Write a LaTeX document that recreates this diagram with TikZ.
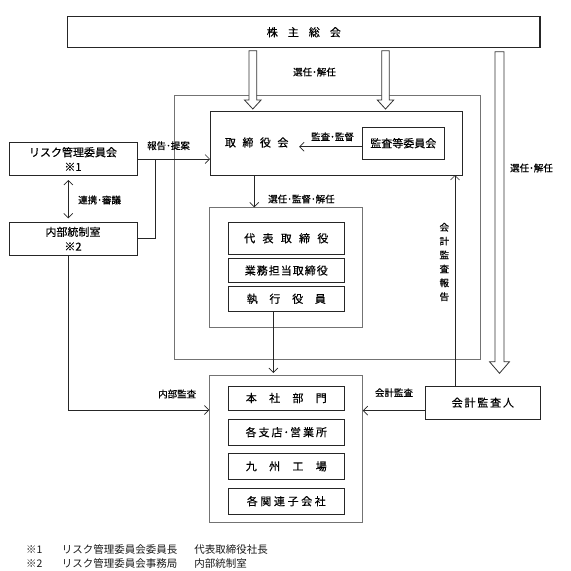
\documentclass[tikz,border=0pt]{standalone}
\usepackage{fontspec}
\setmainfont{Noto Sans CJK JP}[FakeBold=0.35]
\newfontfamily\footfont{Noto Sans CJK JP}
\usetikzlibrary{arrows.meta}
\begin{document}
\begin{tikzpicture}[x=1pt,y=-1pt,
  box/.style={draw=black!85, line width=0.8pt, inner sep=0pt, outer sep=0pt, align=center, font=\fontsize{11pt}{13pt}\selectfont},
  frame/.style={draw=black!55, line width=0.8pt, inner sep=0pt, outer sep=0pt},
  lbl/.style={inner sep=0pt, font=\fontsize{9.5pt}{11pt}\selectfont},
  arr/.style={draw=black!85, line width=0.7pt, -{Straight Barb[length=4.5pt,width=9pt]}},
  dbl/.style={draw=black!85, line width=0.7pt, {Straight Barb[length=4.5pt,width=9pt]}-{Straight Barb[length=4.5pt,width=9pt]}},
  ln/.style={draw=black!85, line width=0.7pt},
  hollow/.style={draw=black!80, line width=0.8pt, fill=white},
  foot/.style={anchor=west, inner sep=0pt, text=black!90, font=\footfont\fontsize{10.5pt}{12pt}\selectfont}]
\useasboundingbox (0,0) rectangle (571,571);

% frames
\node[frame, minimum width=306.7pt, minimum height=263.6pt] (of) at (327.35,227.5) {};
\node[frame, minimum width=153pt, minimum height=119.7pt] (inf) at (285.8,267.15) {};
\node[frame, minimum width=153.4pt, minimum height=147.7pt] (lf) at (286,448.85) {};

% boxes
\node[box, line width=1.3pt, minimum width=472.3pt, minimum height=31pt] (sh) at (303.85,32.2) {株\hspace{10pt}主\hspace{10pt}総\hspace{10pt}会};
\node[box, minimum width=252.3pt, minimum height=64pt] (tb) at (336.15,143) {};
\node[inner sep=0pt, font=\fontsize{11pt}{13pt}\selectfont] (tbt) at (256.7,142.5) {取\hspace{6.5pt}締\hspace{6.5pt}役\hspace{6.5pt}会};
\node[box, minimum width=82pt, minimum height=32.3pt] (kan) at (403.3,143.2) {監査等委員会};
\node[box, minimum width=128pt, minimum height=32.6pt, font=\fontsize{11pt}{14.5pt}\selectfont] (risk) at (73,159) {リスク管理委員会\\※1};
\node[box, minimum width=128pt, minimum height=32.7pt, font=\fontsize{11pt}{14.5pt}\selectfont] (nb) at (73,238.65) {内部統制室\\※2};
\node[box, minimum width=116pt, minimum height=32pt] (dh) at (286.3,238.3) {代\hspace{7.3pt}表\hspace{7.3pt}取\hspace{7.3pt}締\hspace{7.3pt}役};
\node[box, minimum width=116pt, minimum height=24.7pt] (gm) at (286.3,270.5) {業\hspace{1pt}務\hspace{1pt}担\hspace{1pt}当\hspace{1pt}取\hspace{1pt}締\hspace{1pt}役};
\node[box, minimum width=116pt, minimum height=24.3pt] (sk) at (286.3,298.85) {執\hspace{11.7pt}行\hspace{11.7pt}役\hspace{11.7pt}員};
\node[box, minimum width=116pt, minimum height=24pt] (hs) at (286.3,398) {本\hspace{12.3pt}社\hspace{12.3pt}部\hspace{12.3pt}門};
\node[box, minimum width=116pt, minimum height=25.7pt] (st) at (286.3,432.15) {各\hspace{2pt}支\hspace{2pt}店\hspace{1pt}･\hspace{1pt}営\hspace{2pt}業\hspace{2pt}所};
\node[box, minimum width=116pt, minimum height=26pt] (ks) at (286.3,466.3) {九\hspace{12.3pt}州\hspace{12.3pt}工\hspace{12.3pt}場};
\node[box, minimum width=116pt, minimum height=25.7pt] (kr) at (286.3,501.15) {各\hspace{2.6pt}関\hspace{2.6pt}連\hspace{2.6pt}子\hspace{2.6pt}会\hspace{2.6pt}社};
\node[box, minimum width=114.3pt, minimum height=33.3pt] (kk) at (482.85,402.65) {会\hspace{1.8pt}計\hspace{1.8pt}監\hspace{1.8pt}査\hspace{1.8pt}人};

% hollow arrows
\draw[hollow] (248.95,50.7) -- (248.95,100) -- (244.5,100) -- (252.8,109) -- (261.1,100) -- (256.65,100) -- (256.65,50.7) -- cycle;
\draw[hollow] (381.7,50.7) -- (381.7,100) -- (377.3,100) -- (385.5,109) -- (393.7,100) -- (389.3,100) -- (389.3,50.7) -- cycle;
\draw[hollow] (495,51.7) -- (495,361.7) -- (489.5,361.7) -- (499.5,373.3) -- (509.5,361.7) -- (504,361.7) -- (504,51.7) -- cycle;

% connectors
\coordinate (jn) at (155.7,159);
\draw[arr] (risk.east) -- (risk.east -| tb.west);
\draw[ln] (nb.east) -| (jn);
\coordinate (da) at ([xshift=-4.7pt]risk.south);
\coordinate (db) at ([xshift=-4.7pt]nb.north);
\draw[dbl, shorten <=4.7pt, shorten >=4pt] (da) -- (db);
\coordinate (na) at ([xshift=-4.7pt]nb.south);
\draw[arr] (na) |- (hs.south -| lf.west);
\coordinate (ka) at ([yshift=-8pt]kk.west);
\draw[arr] (ka) -- (ka -| lf.east);
\coordinate (kb) at ([xshift=-27.85pt]kk.north);
\draw[arr] (kb) -- (kb |- tb.south);
\coordinate (kc) at ([yshift=-3.5pt]kan.west);
\coordinate (kd) at ([xshift=10.5pt]tbt.east);
\draw[arr] (kc) -- (kc -| kd);
\coordinate (ta) at (254.3,175);
\draw[arr] (ta) -- (ta |- inf.north);
\coordinate (sa) at ([xshift=-13pt]sk.south);
\draw[arr, shorten >=2pt] (sa) -- (sa |- lf.north);

% labels
\node[lbl] (l1) at (314.5,72) {選任･解任};
\node[lbl] (l2) at (168.5,145.7) {報告･提案};
\node[lbl] (l3) at (332.5,136.7) {監査･監督};
\node[lbl, anchor=west] (l4) at (78,200) {連携･審議};
\node[lbl, anchor=west] (l5) at (268,199) {選任･監督･解任};
\node[lbl, align=center, font=\fontsize{9.5pt}{13.9pt}\selectfont] (l6) at (444.3,262) {会\\計\\監\\査\\報\\告};
\node[lbl] (l7) at (531.5,168) {選任･解任};
\node[lbl] (l8) at (177.2,394) {内部監査};
\node[lbl] (l9) at (394,392.7) {会計監査};

% footnotes
\node[foot] (f1) at (26,549) {\makebox[35.7pt][l]{※1}\makebox[132.6pt][l]{リスク管理委員会委員長}代表取締役社長};
\node[foot] (f2) at (26,563) {\makebox[35.7pt][l]{※2}\makebox[132.6pt][l]{リスク管理委員会事務局}内部統制室};
\end{tikzpicture}
\end{document}
